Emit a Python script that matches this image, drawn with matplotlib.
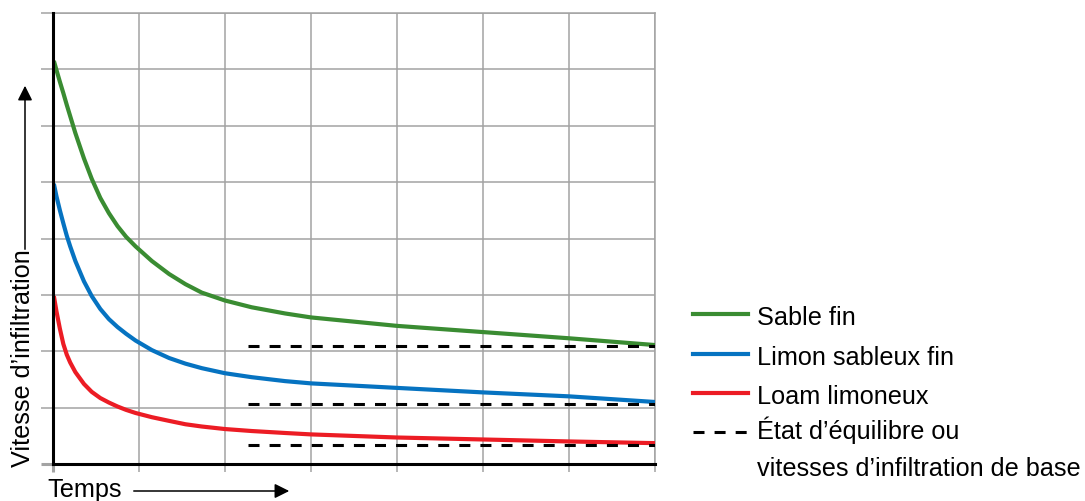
import matplotlib
matplotlib.use("Agg")
import matplotlib.pyplot as plt
from matplotlib.lines import Line2D

plt.rcParams['font.family'] = ['Liberation Sans', 'DejaVu Sans']

# temps (unités de grille) et vitesses
temps = [0.01, 0.04, 0.08, 0.12, 0.16, 0.2, 0.26, 0.36, 0.45, 0.55, 0.65, 0.75, 0.85, 0.96,
         1.15, 1.35, 1.54, 1.73, 2.0, 2.31, 2.7, 3.0, 4, 5, 6, 7]
sable_fin = [7.15, 6.99, 6.78, 6.58, 6.37, 6.17, 5.87, 5.42, 5.06, 4.72, 4.45, 4.22, 4.03, 3.86,
             3.6, 3.37, 3.19, 3.04, 2.9, 2.78, 2.67, 2.6, 2.45, 2.34, 2.23, 2.11]
limon_sableux = [4.97, 4.75, 4.5, 4.27, 4.05, 3.86, 3.6, 3.24, 2.98, 2.75, 2.57, 2.43, 2.31, 2.19,
                 2.02, 1.88, 1.78, 1.7, 1.61, 1.54, 1.47, 1.43, 1.35, 1.27, 1.2, 1.1]
loam_limoneux = [2.98, 2.71, 2.4, 2.13, 1.94, 1.8, 1.63, 1.42, 1.28, 1.17, 1.09, 1.02, 0.96, 0.905,
                 0.83, 0.765, 0.705, 0.665, 0.62, 0.585, 0.55, 0.525, 0.47, 0.435, 0.4, 0.37]

base_x = [2.27, 7]
base_levels = [2.1, 1.07, 0.33]

labels = ["Sable fin", "Limon sableux fin", "Loam limoneux"]
colors = ["#3a8c32", "#0673c1", "#ec1c24"]

W, H = 1085, 502
fig = plt.figure(figsize=(W / 100, H / 100), dpi=100)
ax = fig.add_axes([53 / W, 1 - 465 / H, 602 / W, 451 / H])


def px(x, y):
    return (x / W, 1 - y / H)


grid_c = "#a3a3a3"
ax.set_xlim(0, 7)
ax.set_ylim(0, 8)
ax.set_xticks(range(8))
ax.set_yticks(range(9))
ax.set_xticklabels([])
ax.set_yticklabels([])
ax.grid(True, color=grid_c, lw=1.1)
ax.tick_params(axis='x', length=6, width=1.1, color=grid_c)
ax.tick_params(axis='y', length=8.6, width=1.1, color=grid_c)
for sp in ['top', 'right']:
    ax.spines[sp].set_color(grid_c)
    ax.spines[sp].set_linewidth(1.1)
for sp in ['left', 'bottom']:
    ax.spines[sp].set_color('k')
    ax.spines[sp].set_linewidth(2.2)
    ax.spines[sp].set_zorder(5)
ax.xaxis.get_major_ticks()[0].tick1line.set_color('k')
ax.xaxis.get_major_ticks()[0].tick1line.set_markeredgewidth(2.2)
ax.yaxis.get_major_ticks()[0].tick1line.set_color('k')
ax.yaxis.get_major_ticks()[0].tick1line.set_markeredgewidth(2.2)

for y, lab, c in zip([sable_fin, limon_sableux, loam_limoneux], labels, colors):
    ax.plot(temps, y, color=c, lw=3, solid_capstyle='butt', solid_joinstyle='round', zorder=3)
for lvl in base_levels:
    ax.plot(base_x, [lvl, lvl], color='k', lw=2.2, ls=(0, (3.6, 3.3)), zorder=4)

# titres des axes avec flèches
fs = 18.2
fig.text(*px(23, 467), "Vitesse d\u2019infiltration", rotation=90, ha='center', va='bottom', fontsize=fs)
ax.annotate("", xy=px(25, 84), xytext=px(25, 253), xycoords='figure fraction',
            arrowprops=dict(arrowstyle='-|>', lw=1.1, color='k', mutation_scale=22))
fig.text(*px(47, 497), "Temps", ha='left', va='baseline', fontsize=fs)
ax.annotate("", xy=px(292, 492), xytext=px(131, 492), xycoords='figure fraction',
            arrowprops=dict(arrowstyle='-|>', lw=1.1, color='k', mutation_scale=22))

# légende
leg_y = [315, 355, 394]
for yy, lab, c in zip(leg_y, labels, colors):
    fig.add_artist(Line2D([693 / W, 748 / W], [1 - yy / H, 1 - yy / H], color=c, lw=3))
    fig.text(*px(757, yy + 10), lab, ha='left', va='baseline', fontsize=fs)
fig.add_artist(Line2D([693 / W, 748 / W], [1 - 433 / H, 1 - 433 / H], color='k', lw=2.2,
                      ls=(0, (3.6, 3.3))))
fig.text(*px(757, 439), "\u00c9tat d\u2019\u00e9quilibre ou", ha='left', va='baseline', fontsize=fs)
fig.text(*px(757, 476), "vitesses d\u2019infiltration de base", ha='left', va='baseline', fontsize=fs)

fig.savefig("out.png", dpi=100)
